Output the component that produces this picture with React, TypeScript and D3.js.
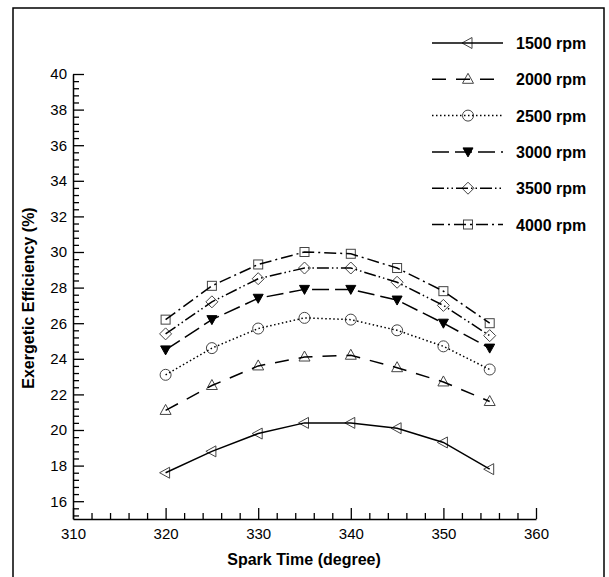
import React, { useEffect, useRef } from 'react';
import * as d3 from 'd3';

const sparkTimes = [320, 325, 330, 335, 340, 345, 350, 355];
const rpm1500 = [17.6, 18.8, 19.8, 20.4, 20.4, 20.1, 19.3, 17.8];
const rpm2000 = [21.1, 22.5, 23.6, 24.1, 24.2, 23.5, 22.7, 21.6];
const rpm2500 = [23.1, 24.6, 25.7, 26.3, 26.2, 25.6, 24.7, 23.4];
const rpm3000 = [24.5, 26.2, 27.4, 27.9, 27.9, 27.3, 26.0, 24.6];
const rpm3500 = [25.4, 27.2, 28.5, 29.1, 29.1, 28.3, 27.0, 25.3];
const rpm4000 = [26.2, 28.1, 29.3, 30.0, 29.9, 29.1, 27.8, 26.0];

const seriesNames = ['1500 rpm', '2000 rpm', '2500 rpm', '3000 rpm', '3500 rpm', '4000 rpm'];
const xMajorTicks = [310, 320, 330, 340, 350, 360];
const yMajorTicks = [16, 18, 20, 22, 24, 26, 28, 30, 32, 34, 36, 38, 40];

const font = '"Liberation Sans", Arial, sans-serif';

const App = () => {
    const ref = useRef<SVGSVGElement>(null);

    useEffect(() => {
        const svg = d3.select(ref.current);
        svg.selectAll('*').remove();

        const x = d3.scaleLinear().domain([310, 360]).range([73, 536]);
        const y = d3.scaleLinear().domain([15, 40]).range([519, 74]);

        // outer frame
        svg.append('rect')
            .attr('x', 13).attr('y', 8)
            .attr('width', 591).attr('height', 585)
            .attr('fill', 'white')
            .attr('stroke', 'black')
            .attr('stroke-width', 1.5);

        // minor ticks
        const xMinor = d3.range(312, 360, 2).filter(v => v % 10 !== 0);
        const yMinor = d3.range(15.2, 40, 0.4).filter(v => Math.abs(v / 2 - Math.round(v / 2)) > 0.01);

        svg.append('g')
            .attr('transform', 'translate(0,519)')
            .call(d3.axisBottom(x).tickValues(xMinor).tickSize(-6).tickSizeOuter(0).tickFormat(() => ''))
            .call(g => g.select('.domain').remove());

        svg.append('g')
            .attr('transform', 'translate(73,0)')
            .call(d3.axisLeft(y).tickValues(yMinor).tickSize(-6).tickSizeOuter(0).tickFormat(() => ''))
            .call(g => g.select('.domain').remove());

        // major axes
        const xAxis = svg.append('g')
            .attr('transform', 'translate(0,519)')
            .call(d3.axisBottom(x).tickValues(xMajorTicks).tickSize(-11).tickSizeOuter(0).tickPadding(9));
        xAxis.selectAll('text').attr('dy', '0.71em');

        const yAxis = svg.append('g')
            .attr('transform', 'translate(73,0)')
            .call(d3.axisLeft(y).tickValues(yMajorTicks).tickSize(-11).tickSizeOuter(0).tickPadding(6));

        [xAxis, yAxis].forEach(a => {
            a.selectAll('path, line').attr('stroke', 'black').attr('stroke-width', 1.5);
            a.selectAll('text').style('font-family', font).style('font-size', '15px').attr('fill', 'black');
        });
        svg.selectAll('.tick line').attr('stroke', 'black').attr('stroke-width', 1.3);

        // axis titles
        svg.append('text')
            .attr('x', 304).attr('y', 565)
            .attr('text-anchor', 'middle')
            .style('font-family', font).style('font-size', '16px').style('font-weight', 'bold')
            .text('Spark Time (degree)');

        svg.append('text')
            .attr('transform', 'translate(34,298) rotate(-90)')
            .attr('text-anchor', 'middle')
            .style('font-family', font).style('font-size', '16px').style('font-weight', 'bold')
            .text('Exergetic Efficiency (%)');

        // series
        const allValues = [rpm1500, rpm2000, rpm2500, rpm3000, rpm3500, rpm4000];
        const dashes = ['none', '14 10', '1.5 2.5', '17 6', '12 3 1.5 3 1.5 3', '12 4 2 4'];
        const markerGrey = '#444';

        const drawMarker = (g: any, i: number, cx: number, cy: number) => {
            if (i === 0) {
                g.append('path')
                    .attr('d', `M${cx - 6},${cy} L${cx + 4},${cy - 5.5} L${cx + 4},${cy + 5.5} Z`)
                    .attr('fill', 'none').attr('stroke', markerGrey).attr('stroke-width', 1);
            } else if (i === 1) {
                g.append('path')
                    .attr('d', `M${cx},${cy - 6} L${cx + 5.5},${cy + 4} L${cx - 5.5},${cy + 4} Z`)
                    .attr('fill', 'none').attr('stroke', markerGrey).attr('stroke-width', 1);
            } else if (i === 2) {
                g.append('circle')
                    .attr('cx', cx).attr('cy', cy).attr('r', 5.5)
                    .attr('fill', 'none').attr('stroke', markerGrey).attr('stroke-width', 1);
            } else if (i === 3) {
                g.append('path')
                    .attr('d', `M${cx - 5},${cy - 4} L${cx + 5},${cy - 4} L${cx},${cy + 5} Z`)
                    .attr('fill', 'black').attr('stroke', 'black').attr('stroke-width', 1);
            } else if (i === 4) {
                g.append('path')
                    .attr('d', `M${cx},${cy - 6} L${cx + 6},${cy} L${cx},${cy + 6} L${cx - 6},${cy} Z`)
                    .attr('fill', 'none').attr('stroke', markerGrey).attr('stroke-width', 1);
            } else {
                g.append('rect')
                    .attr('x', cx - 4.5).attr('y', cy - 4.5).attr('width', 9).attr('height', 9)
                    .attr('fill', 'none').attr('stroke', markerGrey).attr('stroke-width', 1);
            }
        };

        const line = d3.line<number>()
            .x((_, j) => x(sparkTimes[j]))
            .y(d => y(d));

        allValues.forEach((vals, i) => {
            const g = svg.append('g');
            vals.forEach((v, j) => drawMarker(g, i, x(sparkTimes[j]), y(v)));
            g.append('path')
                .datum(vals)
                .attr('fill', 'none')
                .attr('stroke', 'black')
                .attr('stroke-width', 1.5)
                .attr('stroke-dasharray', dashes[i])
                .attr('d', line);
        });

        // legend
        const legend = svg.append('g');
        seriesNames.forEach((name, i) => {
            const ly = 43 + i * 36.3;
            drawMarker(legend, i, 468, ly);
            legend.append('line')
                .attr('x1', 432).attr('x2', 503)
                .attr('y1', ly).attr('y2', ly)
                .attr('stroke', 'black')
                .attr('stroke-width', 1.5)
                .attr('stroke-dasharray', dashes[i]);
            legend.append('text')
                .attr('x', 516).attr('y', ly + 6)
                .style('font-family', font).style('font-size', '16px').style('font-weight', 'bold')
                .text(name);
        });
    }, []);

    return (
        <div style={{ position: 'absolute', left: 0, top: 0 }}>
            <svg ref={ref} width={609} height={577} style={{ display: 'block' }} />
        </div>
    );
};

export default App;
